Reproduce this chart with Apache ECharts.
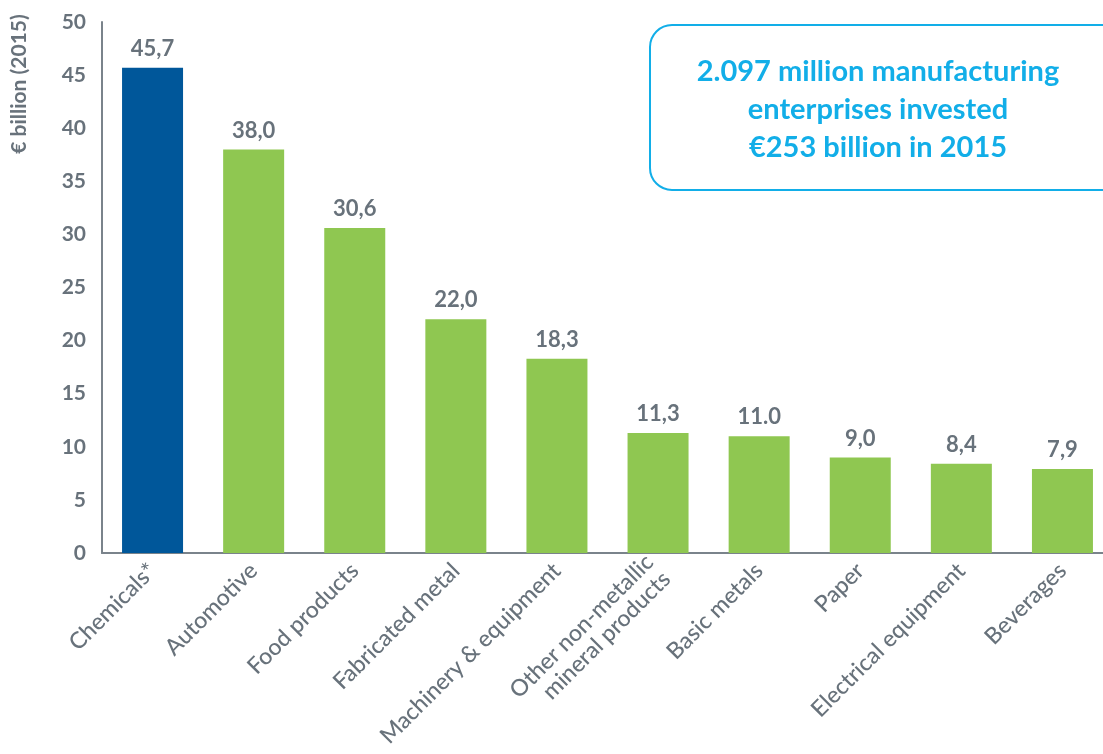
<!DOCTYPE html>
<html>
<head>
<meta charset="utf-8">
<script src="https://cdn.jsdelivr.net/npm/echarts@6/dist/echarts.min.js"></script>
<style>html,body{margin:0;padding:0;background:#fff;overflow:hidden;width:1103px;height:754px}#c{width:1113px;height:754px}</style>
</head>
<body>
<div id="c"></div>
<script>
const categories = ["Chemicals*", "Automotive", "Food products", "Fabricated metal", "Machinery & equipment", "Other non-metallic\nmineral products", "Basic metals", "Paper", "Electrical equipment", "Beverages"];
const values = [45.7, 38.0, 30.6, 22.0, 18.3, 11.3, 11.0, 9.0, 8.4, 7.9];
const valueLabels = ["45,7", "38,0", "30,6", "22,0", "18,3", "11,3", "11.0", "9,0", "8,4", "7,9"];
const yTicks = [0, 5, 10, 15, 20, 25, 30, 35, 40, 45, 50];
const yAxisTitle = "€ billion (2015)";
const boxText = "2.097 million manufacturing\nenterprises invested\n€253 billion in 2015";

const GRAY = "#68727b";
const BLUE = "#00579a";
const GREEN = "#8fc751";
const CYAN = "#12aee8";
const FONT = "Lato, 'Open Sans', sans-serif";

const chart = echarts.init(document.getElementById('c'), null, {renderer: 'canvas'});
chart.setOption({
  animation: false,
  backgroundColor: '#fff',
  grid: {left: 102, right: 0, top: 22, bottom: 201, containLabel: false},
  xAxis: {
    type: 'category',
    data: categories,
    axisLine: {show: true, lineStyle: {color: '#7a838b', width: 2}},
    axisTick: {show: false},
    axisLabel: {
      interval: 0, rotate: 45, margin: 14, color: GRAY,
      fontFamily: FONT, fontSize: 23, fontWeight: 500, lineHeight: 24
    }
  },
  yAxis: {
    type: 'value', min: yTicks[0], max: yTicks[yTicks.length - 1], interval: 5,
    axisLine: {show: true, lineStyle: {color: '#7a838b', width: 2}},
    axisTick: {show: false},
    splitLine: {show: false},
    axisLabel: {color: GRAY, fontFamily: FONT, fontSize: 21, fontWeight: 'bold', margin: 16}
  },
  series: [{
    type: 'bar',
    data: values.map((v, i) => ({value: v, itemStyle: {color: i === 0 ? BLUE : GREEN}})),
    barWidth: 61,
    label: {
      show: true, position: 'top', distance: 8,
      formatter: p => valueLabels[p.dataIndex],
      color: GRAY, fontFamily: FONT, fontSize: 22, fontWeight: 'bold'
    }
  }],
  graphic: [
    {
      type: 'text', x: 19, y: 84, rotation: Math.PI / 2,
      style: {text: yAxisTitle, fill: GRAY, font: "bold 21px " + FONT, align: 'center', verticalAlign: 'middle'}
    },
    {
      type: 'rect', shape: {x: 650, y: 25, width: 480, height: 165, r: 22},
      style: {fill: '#fff', stroke: CYAN, lineWidth: 2}
    },
    {
      type: 'text', x: 878, y: 110,
      style: {text: boxText, fill: CYAN, font: "bold 29px " + FONT, align: 'center', verticalAlign: 'middle', lineHeight: 38}
    }
  ]
});
</script>
</body>
</html>
